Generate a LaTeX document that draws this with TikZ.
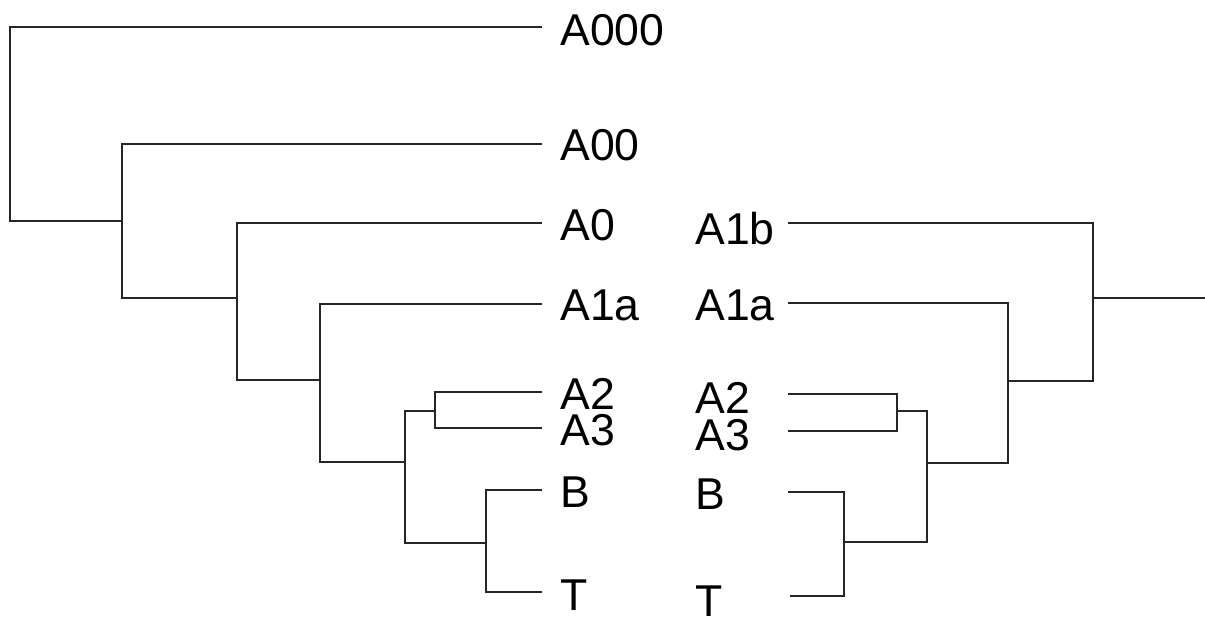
\documentclass[tikz,border=0pt]{standalone}
\usepackage{fontspec}
\setmainfont{Liberation Sans}

\tikzset{
  leaf/.style={anchor=west, inner xsep=9pt, inner ysep=0pt, text height=16pt, text depth=0pt,
    font=\fontsize{22.3}{26}\selectfont},
  rleaf/.style={leaf, inner xsep=0pt},
  branch/.style={line width=1pt, black!85, line join=miter},
}

\begin{document}
\begin{tikzpicture}[x=0.5pt, y=-0.5pt]
\useasboundingbox (0,0) rectangle (1205,616);

% left tree
\node[leaf] (A000) at (542,29) {A000};
\node[leaf] (A00) at (542,144) {A00};
\node[leaf] (A0) at (542,224) {A0};
\node[leaf] (A1a) at (542,304) {A1a};
\node[leaf] (A2) at (542,393) {A2};
\node[leaf] (A3) at (542,429) {A3};
\node[leaf] (B) at (542,491) {B};
\node[leaf] (T) at (542,594) {T};

\coordinate (root) at (10,221);
\coordinate (j00) at (122,221);
\coordinate (j0) at (237,298);
\coordinate (j1) at (320,380);
\coordinate (j2) at (405,462);
\coordinate (j23) at (435,411);
\coordinate (jBT) at (486,543);

\draw[branch] ([yshift=1pt]A000.west) -| (root) -- (j00);
\draw[branch] (A00.west) -| (j00) |- (j0);
\draw[branch] ([yshift=0.5pt]A0.west) -| (j0) |- (j1);
\draw[branch] (A1a.west) -| (j1) |- (j2);
\draw[branch] (j23) -| (j2) |- (jBT);
\draw[branch] ([yshift=0.5pt]A2.west) -| (j23) |- ([yshift=0.5pt]A3.west);
\draw[branch] ([yshift=0.5pt]B.west) -| (jBT) |- ([yshift=1pt]T.west);

% right tree
\node[rleaf] (A1b r) at (695,228) {A1b};
\node[rleaf] (A1a r) at (695,304) {A1a};
\node[rleaf] (A2 r) at (695,397) {A2};
\node[rleaf] (A3 r) at (695,434) {A3};
\node[rleaf] (B r) at (695,493) {B};
\node[rleaf] (T r) at (695,600) {T};

\coordinate (sA1b) at (788,223);
\coordinate (sA1a) at (788,303);
\coordinate (sA2) at (788,394);
\coordinate (sA3) at (788,431);
\coordinate (sB) at (788,492);
\coordinate (sT) at (790,596);

\coordinate (kr) at (1093,298);
\coordinate (k1) at (1008,381);
\coordinate (k2) at (927,463);
\coordinate (k23) at (897,411);
\coordinate (kBT) at (844,542);
\coordinate (stub) at (1205,298);

\draw[branch] (sA1b) -| (kr) |- (k1);
\draw[branch] (kr) -- (stub);
\draw[branch] (sA1a) -| (k1) |- (k2);
\draw[branch] (k23) -| (k2) |- (kBT);
\draw[branch] (sA2) -| (k23) |- (sA3);
\draw[branch] (sB) -| (kBT) |- (sT);
\end{tikzpicture}
\end{document}
